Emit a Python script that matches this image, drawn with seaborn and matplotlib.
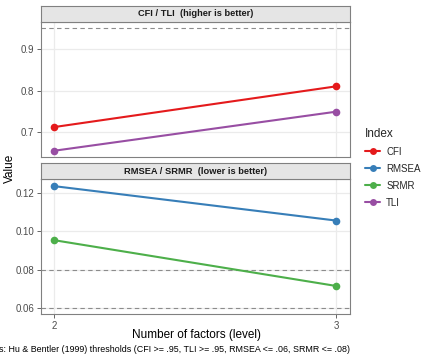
import matplotlib
matplotlib.use("Agg")
import matplotlib.pyplot as plt
import seaborn as sns
import pandas as pd
from matplotlib.lines import Line2D

levels = [2, 3]
cfi = [0.712, 0.810]
tli = [0.655, 0.749]
rmsea = [0.1236, 0.1057]
srmr = [0.0955, 0.0717]
index_names = ["CFI", "RMSEA", "SRMR", "TLI"]
colors = {"CFI": "#E41A1C", "RMSEA": "#377EB8", "SRMR": "#4DAF4A", "TLI": "#984EA3"}
top_title = "CFI / TLI  (higher is better)"
bottom_title = "RMSEA / SRMR  (lower is better)"
top_thresholds = [0.95]
bottom_thresholds = [0.08, 0.06]
caption = "Notes: Hu & Bentler (1999) thresholds (CFI >= .95, TLI >= .95, RMSEA <= .06, SRMR <= .08)"

sns.set_theme(style="white")
plt.rcParams['font.family'] = ['Liberation Sans', 'DejaVu Sans']

df_top = pd.DataFrame({"level": levels * 2, "Value": cfi + tli,
                       "Index": ["CFI"] * 2 + ["TLI"] * 2})
df_bot = pd.DataFrame({"level": levels * 2, "Value": rmsea + srmr,
                       "Index": ["RMSEA"] * 2 + ["SRMR"] * 2})

fig = plt.figure(figsize=(4.32, 3.6), dpi=100)
L, W = 41 / 432, 309 / 432
ax1 = fig.add_axes([L, 1 - 157 / 360, W, 135 / 360])
ax2 = fig.add_axes([L, 1 - 314 / 360, W, 135 / 360])
s1 = fig.add_axes([L, 1 - 22 / 360, W, 16 / 360])
s2 = fig.add_axes([L, 1 - 179 / 360, W, 16 / 360])

def style_panel(ax, df, thresholds, ylim, yticks, ylabels, show_x):
    for y in yticks:
        ax.axhline(y, color="#EBEBEB", lw=0.9, zorder=0)
    for x in levels:
        ax.axvline(x, color="#EBEBEB", lw=0.9, zorder=0)
    for t in thresholds:
        ax.axhline(t, color="#8C8C8C", lw=0.8, ls=(0, (4, 3)), zorder=1)
    sns.lineplot(data=df, x="level", y="Value", hue="Index", palette=colors,
                 marker="o", markersize=5.5, markeredgewidth=0, lw=1.5,
                 ax=ax, legend=False, zorder=3)
    ax.set_xlim(1.954, 3.05)
    ax.set_ylim(*ylim)
    ax.set_yticks(yticks)
    ax.set_yticklabels(ylabels, fontsize=7, color="#4D4D4D")
    ax.set_xticks(levels)
    if show_x:
        ax.set_xticklabels([str(l) for l in levels], fontsize=7, color="#4D4D4D")
    else:
        ax.set_xticklabels([])
        ax.tick_params(axis="x", length=0)
    ax.tick_params(axis="y", length=3, width=0.6, color="#4D4D4D", pad=2, left=True)
    if show_x:
        ax.tick_params(axis="x", length=3, width=0.6, color="#4D4D4D", pad=2, bottom=True)
    ax.set_xlabel("")
    ax.set_ylabel("")
    for sp in ax.spines.values():
        sp.set_color("#808080")
        sp.set_linewidth(0.8)

style_panel(ax1, df_top, top_thresholds, (0.64, 0.965), [0.7, 0.8, 0.9],
            ["0.7", "0.8", "0.9"], False)
style_panel(ax2, df_bot, bottom_thresholds, (0.0571, 0.1273), [0.06, 0.08, 0.10, 0.12],
            ["0.06", "0.08", "0.10", "0.12"], True)

for s, title in [(s1, top_title), (s2, bottom_title)]:
    s.set_facecolor("#E5E5E5")
    s.set_xticks([]); s.set_yticks([])
    for sp in s.spines.values():
        sp.set_color("#808080")
        sp.set_linewidth(0.8)
    s.text(0.5, 0.5, title, ha="center", va="center", fontsize=6.7,
           fontweight="bold", color="#1A1A1A", transform=s.transAxes)

fig.text(10 / 432, 1 - 168 / 360, "Value", rotation=90, ha="center", va="center",
         fontsize=8.5, color="black")
fig.text(196 / 432, 1 - 335 / 360, "Number of factors (level)", ha="center",
         va="center", fontsize=8.5, color="black")
fig.text(350 / 432, 1 - 349 / 360, caption, ha="right", va="center",
         fontsize=6.4, color="black")

handles = [Line2D([0], [0], color=colors[n], lw=1.5, marker="o", markersize=5,
                  markeredgewidth=0) for n in index_names]
leg = fig.legend(handles, index_names, title="Index", loc="upper left",
                 bbox_to_anchor=(361 / 432, 1 - 124 / 360), frameon=False,
                 fontsize=7, title_fontsize=8.5, handlelength=1.6,
                 labelspacing=0.72, handletextpad=0.6, borderaxespad=0)
leg._legend_box.align = "left"

fig.savefig("out.png", dpi=100)
